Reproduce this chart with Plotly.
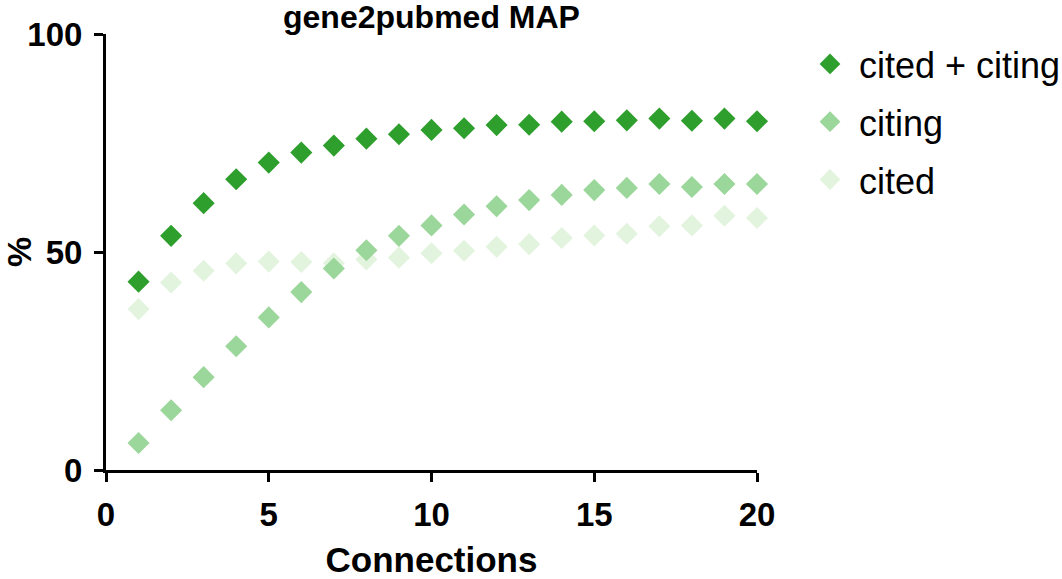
import plotly.graph_objects as go

# Connections on the x axis
connections = list(range(1, 21))

# MAP (%) for each series
cited_citing = [43.2, 53.7, 61.2, 66.7, 70.5, 72.8, 74.4, 76.0, 77.0, 78.0,
                78.4, 79.1, 79.2, 79.9, 80.0, 80.2, 80.6, 80.1, 80.6, 80.0]
citing = [6.2, 13.7, 21.3, 28.4, 35.0, 40.8, 46.2, 50.4, 53.7, 56.1,
          58.6, 60.5, 61.9, 63.1, 64.2, 64.7, 65.6, 64.9, 65.6, 65.6]
cited = [36.9, 43.0, 45.7, 47.4, 47.8, 47.7, 47.4, 48.3, 48.7, 49.7,
         50.3, 51.2, 51.8, 53.2, 53.8, 54.2, 55.9, 56.1, 58.3, 57.8]

series_names = ["cited + citing", "citing", "cited"]
series_values = [cited_citing, citing, cited]
series_colors = ["#2e9e2c", "#9bd69a", "#e2f4de"]

FONT = "Liberation Sans, Arial, sans-serif"

fig = go.Figure()
# draw the lightest series first so darker ones sit on top
for rank, (name, vals, color) in reversed(list(enumerate(zip(series_names, series_values, series_colors)))):
    fig.add_trace(go.Scatter(
        x=connections, y=vals, name=name, mode="markers",
        marker=dict(symbol="diamond", size=17, color=color, line=dict(width=0)),
        cliponaxis=False, legendgroup=name, legendrank=rank + 1,
    ))

fig.update_layout(
    width=1062, height=579,
    margin=dict(l=106, r=305, t=34, b=109, autoexpand=False),
    plot_bgcolor="white", paper_bgcolor="white",
    font=dict(family=FONT, color="black"),
    showlegend=True,
    legend=dict(x=1.0676, xanchor="left", y=1.0, yanchor="top",
                traceorder="grouped", tracegroupgap=8, itemwidth=48,
                font=dict(size=36), bgcolor="rgba(0,0,0,0)"),
)

fig.add_annotation(
    text="<b>gene2pubmed MAP</b>", xref="paper", yref="paper",
    x=0.5, y=1.04, xanchor="center", yanchor="middle", showarrow=False,
    font=dict(size=32, family=FONT),
)

fig.update_xaxes(
    range=[0, 20], tickvals=[0, 5, 10, 15, 20],
    showline=True, linecolor="black", linewidth=3,
    ticks="outside", ticklen=9, tickwidth=3, tickcolor="black",
    showgrid=False, zeroline=False, automargin=False,
    tickfont=dict(size=33, family=FONT, weight="bold"), ticklabelstandoff=4,
    title=dict(text="<b>Connections</b>", font=dict(size=35), standoff=32),
)
fig.update_yaxes(
    range=[0, 100], tickvals=[0, 50, 100],
    showline=True, linecolor="black", linewidth=3,
    ticks="outside", ticklen=9, tickwidth=3, tickcolor="black",
    showgrid=False, zeroline=False, automargin=False,
    tickfont=dict(size=33, family=FONT, weight="bold"), ticklabelstandoff=5,
    title=dict(text="<b>%</b>", font=dict(size=34), standoff=31),
)

# drop the browser's default 8px body margin so the figure starts at the corner
fig.write_html("out.html", config={"displayModeBar": False},
               post_script="document.body.style.margin='0';")
